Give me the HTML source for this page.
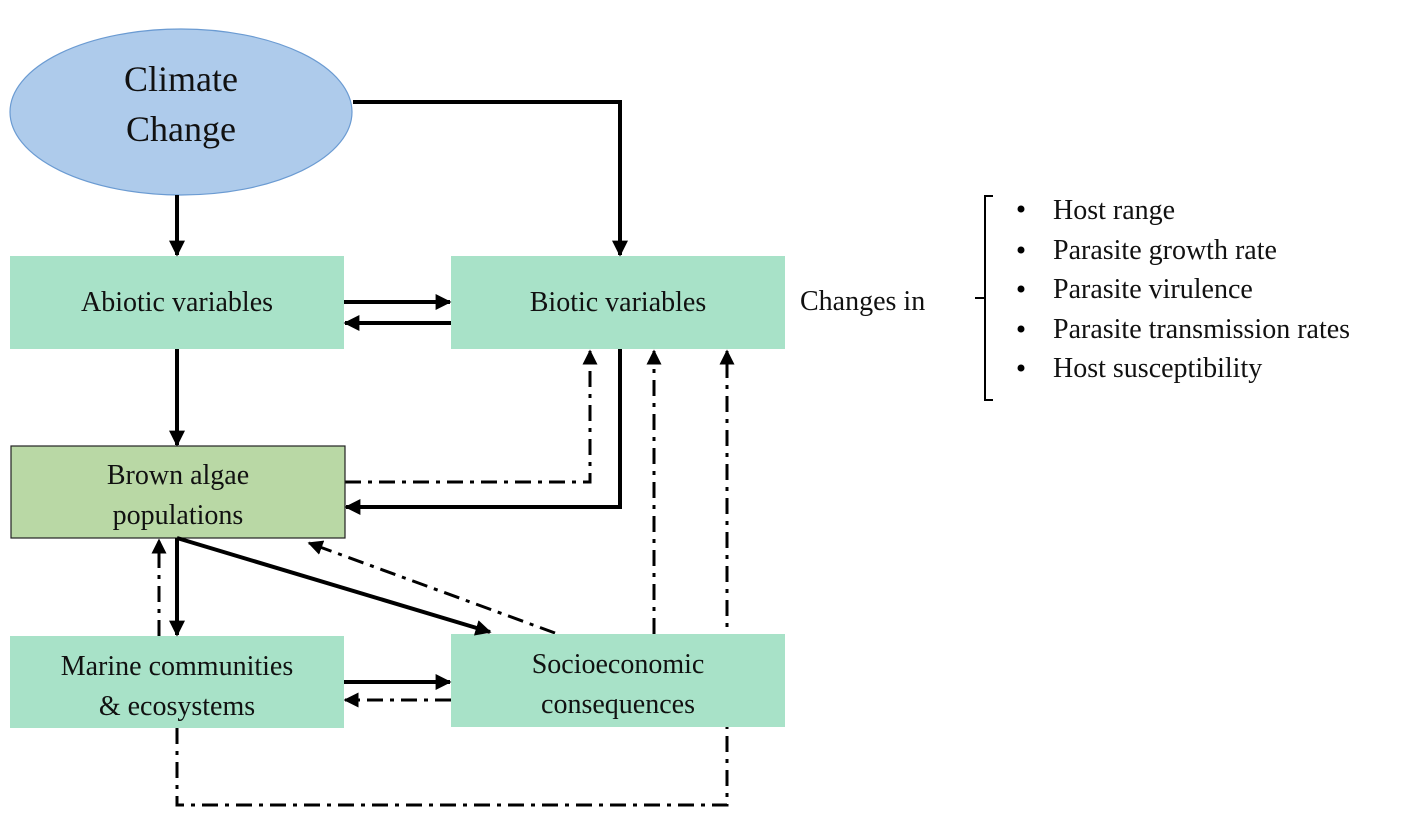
<!DOCTYPE html>
<html><head><meta charset="utf-8"><style>
html,body{margin:0;padding:0;background:#fff;}
svg{display:block;}
text{font-family:"Liberation Serif",serif;fill:#111;}
</style></head><body>
<svg width="1417" height="818" viewBox="0 0 1417 818" xmlns="http://www.w3.org/2000/svg">
<defs>
<marker id="a" viewBox="0 0 10 10" refX="9" refY="5" markerWidth="4" markerHeight="4" orient="auto" markerUnits="strokeWidth"><path d="M0,0 L10,5 L0,10 z" fill="#000"/></marker>
<marker id="b" viewBox="0 0 10 10" refX="9" refY="5" markerWidth="5" markerHeight="5" orient="auto" markerUnits="strokeWidth"><path d="M0,0 L10,5 L0,10 z" fill="#000"/></marker>
</defs>

<!-- dash-dot arrows (drawn beneath boxes) -->
<g stroke="#000" stroke-width="3" fill="none" stroke-dasharray="16,7,4,7">
<polyline points="345,482 590,482 590,351" marker-end="url(#b)"/>
<line x1="654" y1="634" x2="654" y2="351" marker-end="url(#b)"/>
<polyline points="177,728 177,805 727,805 727,351" marker-end="url(#b)"/>
<line x1="159" y1="636" x2="159" y2="540" marker-end="url(#b)"/>
<line x1="555" y1="633" x2="309" y2="543" marker-end="url(#b)"/>
<line x1="451" y1="700" x2="345" y2="700" marker-end="url(#b)"/>
</g>

<!-- ellipse -->
<ellipse cx="181" cy="112" rx="171" ry="83" fill="#aecbeb" stroke="#6b9bd2" stroke-width="1.2"/>
<text x="181" y="91" font-size="36" text-anchor="middle">Climate</text>
<text x="181" y="141" font-size="36" text-anchor="middle">Change</text>

<!-- boxes -->
<rect x="10" y="256" width="334" height="93" fill="#a8e2c8"/>
<rect x="451" y="256" width="334" height="93" fill="#a8e2c8"/>
<rect x="11" y="446" width="334" height="92" fill="#b9d8a5" stroke="#222" stroke-width="1.2"/>
<rect x="10" y="636" width="334" height="92" fill="#a8e2c8"/>
<rect x="451" y="634" width="334" height="93" fill="#a8e2c8"/>

<g font-size="28" text-anchor="middle">
<text x="177" y="311">Abiotic variables</text>
<text x="618" y="311">Biotic variables</text>
<text x="178" y="484">Brown algae</text>
<text x="178" y="524">populations</text>
<text x="177" y="675">Marine communities</text>
<text x="177" y="715">&amp; ecosystems</text>
<text x="618" y="673">Socioeconomic</text>
<text x="618" y="713">consequences</text>
</g>

<!-- solid arrows -->
<g stroke="#000" stroke-width="4" fill="none">
<line x1="177" y1="195" x2="177" y2="255" marker-end="url(#a)"/>
<polyline points="353,102 620,102 620,255" marker-end="url(#a)"/>
<line x1="344" y1="302" x2="450" y2="302" marker-end="url(#a)"/>
<line x1="451" y1="323" x2="345" y2="323" marker-end="url(#a)"/>
<line x1="177" y1="349" x2="177" y2="445" marker-end="url(#a)"/>
<polyline points="620,349 620,507 346,507" marker-end="url(#a)"/>
<line x1="177" y1="538" x2="177" y2="635" marker-end="url(#a)"/>
<line x1="177" y1="538" x2="490" y2="632" marker-end="url(#a)"/>
<line x1="344" y1="682" x2="450" y2="682" marker-end="url(#a)"/>
</g>

<!-- right side -->
<text x="800" y="310" font-size="28">Changes in</text>
<polyline points="993,196 985,196 985,400 993,400" stroke="#000" stroke-width="2" fill="none"/>
<line x1="975" y1="298" x2="985" y2="298" stroke="#000" stroke-width="2"/>
<g font-size="28">
<circle cx="1021" cy="209" r="3.5" fill="#000"/><text x="1053" y="219">Host range</text>
<circle cx="1021" cy="250" r="3.5" fill="#000"/><text x="1053" y="259">Parasite growth rate</text>
<circle cx="1021" cy="289" r="3.5" fill="#000"/><text x="1053" y="298">Parasite virulence</text>
<circle cx="1021" cy="329" r="3.5" fill="#000"/><text x="1053" y="338">Parasite transmission rates</text>
<circle cx="1021" cy="368" r="3.5" fill="#000"/><text x="1053" y="377">Host susceptibility</text>
</g>
</svg>
</body></html>
